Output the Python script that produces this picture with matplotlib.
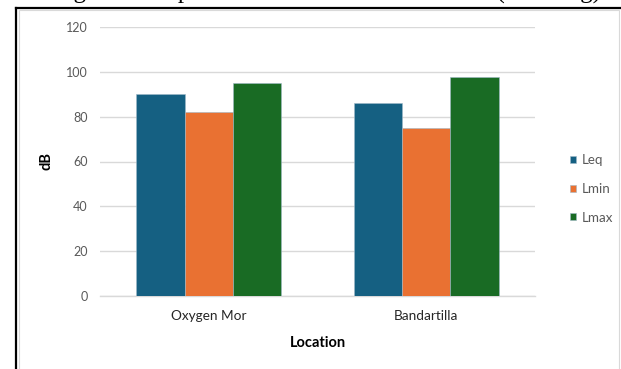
import numpy as np
import matplotlib.pyplot as plt
from matplotlib.lines import Line2D
from matplotlib.patches import Rectangle

# noise levels per location (dB)
locations = ["Oxygen Mor", "Bandartilla"]
leq = [90.2, 86.2]
lmin = [82.0, 74.8]
lmax = [94.8, 97.8]
series_names = ["Leq", "Lmin", "Lmax"]
colors = ["#156082", "#E97132", "#196B24"]

W, H = 621, 369
fig = plt.figure(figsize=(W / 100, H / 100), dpi=100)
fig.patch.set_facecolor("white")

# page frame and chart border
fig.add_artist(Line2D([16 / W, 1], [1 - 7.5 / H, 1 - 7.5 / H], color="black", lw=1.6))
fig.add_artist(Line2D([16 / W, 16 / W], [0, 1 - 7.5 / H], color="black", lw=1.6))
fig.add_artist(Rectangle((18.5 / W, -0.05), (619 - 18.5) / W, 1.05 - 10 / H,
                         fill=False, edgecolor="#D9D9D9", lw=0.8))

# caption line above the chart, mostly cut off by the page edge
fig.text(-3 / W, 1 + 1 / H, "Showing the Comparison of Traffic Noise Levels (Morning)",
         fontfamily="Liberation Serif", fontsize=18, ha="left", va="baseline")

ax = fig.add_axes([100 / W, 1 - 296 / H, 435 / W, 269 / H])
x = np.arange(len(locations))
width = 48 / 216
for i, (name, vals) in enumerate(zip(series_names, [leq, lmin, lmax])):
    ax.bar(x + (i - 1) * width, vals, width, color=colors[i], label=name,
           edgecolor="#9FB8C8", linewidth=0.4, zorder=3)

ax.set_xlim(-0.5, 1.5)
ax.set_ylim(0, 120)
ax.set_yticks(np.arange(0, 121, 20))
ax.set_xticks(x)
ax.set_xticklabels(locations, fontfamily="Lato", fontsize=9.8, color="#262626")
ax.tick_params(axis="y", labelsize=9, labelcolor="#595959", length=0, pad=9)
ax.tick_params(axis="x", length=0, pad=10)
for lab in ax.get_yticklabels():
    lab.set_fontfamily("Lato")
ax.grid(axis="y", color="#D9D9D9", lw=1, zorder=0)
for s in ["top", "right", "left"]:
    ax.spines[s].set_visible(False)
ax.spines["bottom"].set_color("#D9D9D9")
ax.spines["bottom"].set_linewidth(1)

ax.set_ylabel("dB", fontfamily="Lato", fontweight="bold", fontsize=10.5, labelpad=9)
ax.set_xlabel("Location", fontfamily="Lato", fontweight="bold", fontsize=10.5, labelpad=10)

ax.legend(loc="center left", bbox_to_anchor=((558 - 100) / 435, (296 - 189) / 269),
          frameon=False, handlelength=0.45, handleheight=0.45, handletextpad=0.45,
          labelspacing=1.25, prop={"family": "Lato", "size": 9.6}, labelcolor="#595959")

fig.savefig("out.png", dpi=100)
